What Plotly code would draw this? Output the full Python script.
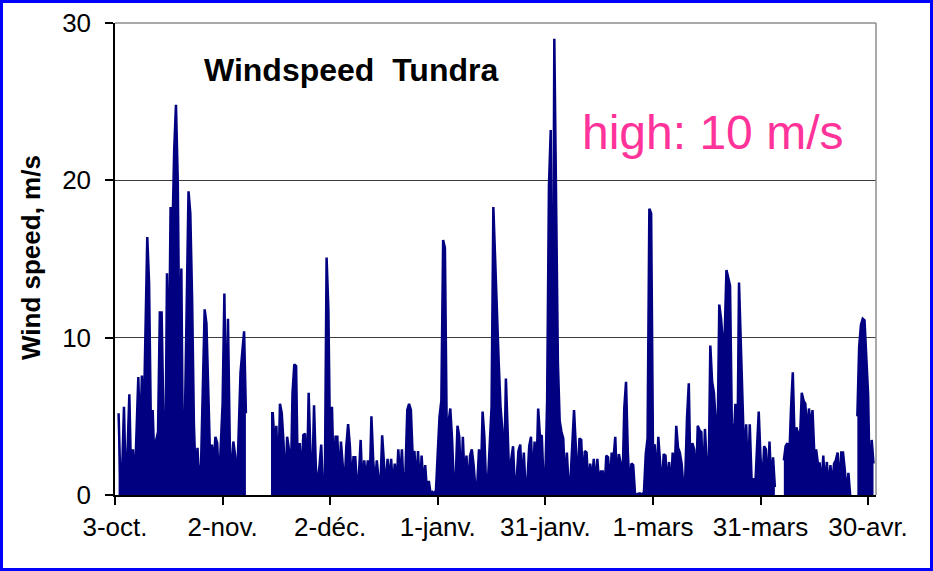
import plotly.graph_objects as go

# ---------------- data ----------------
tick_days = [0, 30, 60, 90, 120, 150, 180, 210]
tick_labels = ["3-oct.", "2-nov.", "2-déc.", "1-janv.", "31-janv.", "1-mars", "31-mars", "30-avr."]
y_ticks = [0, 10, 20, 30]

N = None
# wind speed (m/s), two readings per day starting 3-oct: 00h and 12h
wind_00h = [
    N, 5.2, 1.5, 0.5, 6.4, 2.9, 4.0, 3.5, 4.5, 16.4,
    4.5, 2.0, 4.0, 11.6, 0.7, 7.0, 16.4, 24.8, 8.0, 0.6,
    13.0, 17.9, 4.5, 3.0, 2.0, 11.8, 6.3, 3.2, 3.7, 0.6,
    5.8, 4.0, 3.4, 3.4, 0.5, 7.8, 10.4, N, N, N,
    N, N, N, N, 5.2, 4.4, 5.8, 3.3, 3.7, 0.5,
    8.3, 0.6, 1.0, 3.9, 6.5, 0.7, 1.8, 1.8, 0.3, 15.1,
    2.5, 0.9, 3.7, 3.4, 0.4, 4.5, 0.6, 2.4, 1.2, 0.3,
    0.9, 0.4, 2.2, 2.2, 0.5, 2.3, 2.3, 2.3, 2.0, 2.9,
    2.9, 1.5, 5.8, 2.5, 0.6, 0.3, 0.5, 0.2, 0.1, 0.1,
    2.7, 6.0, 15.7, 4.6, 3.5, 1.0, 3.7, 3.7, 2.5, 2.5,
    1.9, 0.6, 0.8, 3.7, 0.9, 5.6, 14.7, 8.4, 4.2, 7.4,
    0.5, 3.1, 1.0, 3.2, 2.7, 0.9, 3.7, 3.4, 5.5, 3.8,
    1.2, 19.6, 1.0, 19.6, 4.7, 3.6, 2.7, 0.9, 5.4, 0.4,
    3.5, 2.8, 0.4, 0.9, 0.5, 0.7, 1.5, 2.5, 0.5, 2.3,
    0.6, 2.0, 5.5, 2.7, 2.0, 0.1, 0.1, 0.0, 2.6, 18.2,
    3.1, 0.8, 1.9, 2.6, 0.5, 0.3, 1.0, 3.0, 2.0, 1.0,
    7.1, 3.3, 0.5, 4.1, 0.6, 2.0, 9.5, 6.5, 3.0, 11.2,
    10.1, 13.7, 4.6, 5.8, 13.5, 5.2, 4.5, 4.5, 1.0, 2.9,
    2.4, 3.1, 0.4, 0.6, 0.5, N, N, 3.1, 2.2, 7.8,
    4.3, 3.5, 6.0, 3.9, 4.3, 2.6, 2.0, 0.4, 0.5, 0.3,
    0.5, 2.2, 0.4, 2.7, 0.0, 0.0, N, 5.0, 10.8, 11.1,
    6.4, 3.5, N,
]
wind_12h = [
    N, 0.8, 5.6, 2.8, 1.0, 0.6, 7.5, 7.6, 10.1, 13.5,
    5.4, 3.5, 11.6, 5.0, 14.1, 18.3, 21.9, 20.0, 14.4, 5.0,
    19.3, 12.5, 1.0, 0.6, 7.8, 10.9, 2.5, 2.0, 3.3, 3.3,
    12.8, 11.2, 0.7, 2.5, 4.1, 9.1, 5.2, N, N, N,
    N, N, N, 5.2, 3.2, 0.6, 5.2, 0.4, 2.9, 6.5,
    8.2, 3.3, 3.8, 0.5, 2.6, 5.7, 0.4, 3.2, 0.2, 11.8,
    5.6, 3.7, 0.8, 2.0, 3.1, 3.1, 2.4, 0.5, 3.5, 2.2,
    2.2, 5.0, 0.6, 1.0, 3.8, 0.3, 0.8, 0.4, 0.5, 0.9,
    0.3, 5.4, 5.4, 2.8, 2.8, 2.5, 1.9, 0.9, 0.2, 0.3,
    5.0, 16.2, 4.0, 5.5, 0.5, 4.4, 0.4, 0.8, 0.3, 2.9,
    0.4, 2.9, 5.3, 0.5, 3.3, 18.3, 12.6, 5.6, 1.0, 4.0,
    2.3, 0.4, 2.8, 0.5, 0.3, 3.1, 0.6, 1.2, 3.7, 0.8,
    6.0, 23.2, 29.0, 8.4, 4.0, 0.6, 0.5, 2.9, 3.1, 3.6,
    0.7, 2.7, 2.0, 2.3, 2.3, 1.5, 0.3, 2.4, 2.7, 3.7,
    2.6, 0.5, 7.2, 0.4, 1.9, 0.0, 0.1, 0.2, 3.6, 17.9,
    3.2, 3.7, 0.4, 2.5, 2.1, 2.7, 4.4, 2.7, 0.5, 4.9,
    0.8, 2.9, 4.4, 4.0, 4.2, 0.5, 7.2, 4.6, 12.1, 9.7,
    14.3, 13.3, 3.3, 1.0, 9.2, 2.0, 0.6, 1.0, 0.4, 5.3,
    0.5, 2.9, 3.4, 2.4, N, N, 2.2, 3.3, 5.5, 3.5,
    3.9, 6.5, 5.8, 5.5, 5.4, 2.9, 2.0, 2.5, 2.1, 1.9,
    2.0, 2.7, 2.7, 1.6, 1.4, N, N, 9.4, 11.2, 8.4,
    0.1, 2.0, N,
]

# ---------------- build series ----------------
xs, ys = [], []
for d in range(len(wind_00h)):
    xs += [d, d + 0.5]
    ys += [wind_00h[d], wind_12h[d]]

segments = []
cur = None
for x, y in zip(xs, ys):
    if y is None:
        cur = None
        continue
    if cur is None:
        cur = ([], [])
        segments.append(cur)
    cur[0].append(x)
    cur[1].append(y)

NAVY = "#000080"
FONT = "Liberation Sans, Arial, sans-serif"

fig = go.Figure()
for sx, sy in segments:
    fig.add_trace(go.Scatter(
        x=sx, y=sy, mode="lines",
        line=dict(color=NAVY, width=2.5),
        fill="tozeroy", fillcolor=NAVY,
        showlegend=False, hoverinfo="skip",
    ))

W, H = 933, 571
L, R, T, B = 115, 57, 23, 76
pw, ph = W - L - R, H - T - B

def px_x(p):
    return (p - L) / pw

def px_y(p):
    return (H - B - p) / ph

fig.update_layout(
    width=W, height=H,
    margin=dict(l=L, r=R, t=T, b=B, autoexpand=False),
    paper_bgcolor="white", plot_bgcolor="white",
    font=dict(family=FONT, color="black", size=26),
    xaxis=dict(
        range=[0, 212.2], tickmode="array", tickvals=tick_days, ticktext=tick_labels,
        ticks="outside", ticklen=8, tickwidth=1.5, tickcolor="black",
        showline=True, linecolor="black", linewidth=1.5,
        showgrid=False, zeroline=False, automargin=False,
        tickfont=dict(size=26, family=FONT, color="black"),
    ),
    yaxis=dict(
        range=[0, 30], tickmode="array", tickvals=y_ticks,
        ticks="outside", ticklen=8, tickwidth=1.5, tickcolor="black",
        ticklabelstandoff=9, automargin=False,
        showline=True, linecolor="black", linewidth=1.5,
        showgrid=True, gridcolor="#3c3c3c", gridwidth=1,
        zeroline=False,
        tickfont=dict(size=26, family=FONT, color="black"),
    ),
    shapes=[
        dict(type="line", xref="paper", yref="paper", x0=0, x1=1, y0=1, y1=1,
             line=dict(color="#8c8c8c", width=1.5)),
        dict(type="line", xref="paper", yref="paper", x0=1, x1=1, y0=0, y1=1,
             line=dict(color="#8c8c8c", width=1.5)),
        dict(type="rect", xref="paper", yref="paper",
             x0=px_x(1.5), x1=px_x(W - 1.5), y0=px_y(H - 1.5), y1=px_y(1.5),
             line=dict(color="#0000ff", width=3)),
    ],
    annotations=[
        dict(text="<b>Windspeed  Tundra</b>", xref="paper", yref="paper",
             x=px_x(351), y=px_y(70), xanchor="center", yanchor="middle",
             showarrow=False, font=dict(size=32, family=FONT, color="black")),
        dict(text="high: 10 m/s", xref="paper", yref="paper",
             x=px_x(712), y=px_y(132), xanchor="center", yanchor="middle",
             showarrow=False, font=dict(size=48, family=FONT, color="#ff3399")),
        dict(text="<b>Wind speed, m/s</b>", xref="paper", yref="paper",
             x=px_x(31), y=px_y(258), xanchor="center", yanchor="middle",
             showarrow=False, textangle=-90,
             font=dict(size=26, family=FONT, color="black")),
    ],
)

fig.write_html("out.html", config={"displayModeBar": False},
               post_script="document.body.style.margin='0';document.body.style.overflow='hidden';")
